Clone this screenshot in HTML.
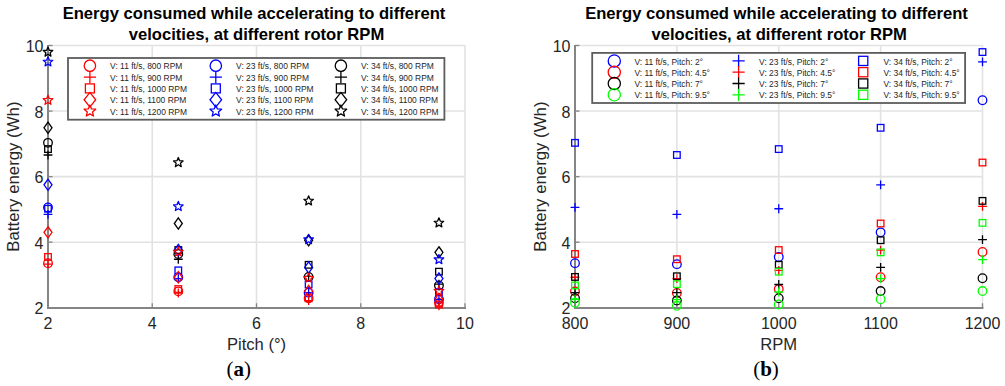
<!DOCTYPE html>
<html><head><meta charset="utf-8"><style>
html,body{margin:0;padding:0;background:#fff;width:1005px;height:386px;overflow:hidden}
svg text{font-family:"Liberation Sans",sans-serif}
</style></head><body>
<svg width="1005" height="386" viewBox="0 0 1005 386" style="position:absolute;left:0;top:0">
<rect width="1005" height="386" fill="#fff"/>
<g font-family="Liberation Sans, sans-serif">
<line x1="152.25" y1="45.5" x2="152.25" y2="307.75" stroke="#e2e2e2" stroke-width="1.6"/>
<line x1="256.50" y1="45.5" x2="256.50" y2="307.75" stroke="#e2e2e2" stroke-width="1.6"/>
<line x1="360.75" y1="45.5" x2="360.75" y2="307.75" stroke="#e2e2e2" stroke-width="1.6"/>
<line x1="465.00" y1="45.5" x2="465.00" y2="307.75" stroke="#e2e2e2" stroke-width="1.6"/>
<line x1="48" y1="242.19" x2="465" y2="242.19" stroke="#e2e2e2" stroke-width="1.6"/>
<line x1="48" y1="176.62" x2="465" y2="176.62" stroke="#e2e2e2" stroke-width="1.6"/>
<line x1="48" y1="111.06" x2="465" y2="111.06" stroke="#e2e2e2" stroke-width="1.6"/>
<line x1="48" y1="45.50" x2="465" y2="45.50" stroke="#e2e2e2" stroke-width="1.6"/>
<line x1="676.88" y1="45.5" x2="676.88" y2="307.75" stroke="#e2e2e2" stroke-width="1.6"/>
<line x1="778.75" y1="45.5" x2="778.75" y2="307.75" stroke="#e2e2e2" stroke-width="1.6"/>
<line x1="880.62" y1="45.5" x2="880.62" y2="307.75" stroke="#e2e2e2" stroke-width="1.6"/>
<line x1="982.50" y1="45.5" x2="982.50" y2="307.75" stroke="#e2e2e2" stroke-width="1.6"/>
<line x1="575" y1="242.19" x2="982.5" y2="242.19" stroke="#e2e2e2" stroke-width="1.6"/>
<line x1="575" y1="176.62" x2="982.5" y2="176.62" stroke="#e2e2e2" stroke-width="1.6"/>
<line x1="575" y1="111.06" x2="982.5" y2="111.06" stroke="#e2e2e2" stroke-width="1.6"/>
<line x1="575" y1="45.50" x2="982.5" y2="45.50" stroke="#e2e2e2" stroke-width="1.6"/>
<line x1="48" y1="45.0" x2="48" y2="309" stroke="#858585" stroke-width="2"/>
<line x1="47" y1="308" x2="466" y2="308" stroke="#858585" stroke-width="2"/>
<line x1="48" y1="307.75" x2="52.5" y2="307.75" stroke="#858585" stroke-width="1.3"/>
<line x1="48" y1="242.19" x2="52.5" y2="242.19" stroke="#858585" stroke-width="1.3"/>
<line x1="48" y1="176.62" x2="52.5" y2="176.62" stroke="#858585" stroke-width="1.3"/>
<line x1="48" y1="111.06" x2="52.5" y2="111.06" stroke="#858585" stroke-width="1.3"/>
<line x1="48" y1="45.50" x2="52.5" y2="45.50" stroke="#858585" stroke-width="1.3"/>
<line x1="48.00" y1="307.75" x2="48.00" y2="303.25" stroke="#858585" stroke-width="1.3"/>
<line x1="152.25" y1="307.75" x2="152.25" y2="303.25" stroke="#858585" stroke-width="1.3"/>
<line x1="256.50" y1="307.75" x2="256.50" y2="303.25" stroke="#858585" stroke-width="1.3"/>
<line x1="360.75" y1="307.75" x2="360.75" y2="303.25" stroke="#858585" stroke-width="1.3"/>
<line x1="465.00" y1="307.75" x2="465.00" y2="303.25" stroke="#858585" stroke-width="1.3"/>
<line x1="575" y1="45.0" x2="575" y2="309" stroke="#858585" stroke-width="2"/>
<line x1="574" y1="308" x2="983.5" y2="308" stroke="#858585" stroke-width="2"/>
<line x1="575" y1="307.75" x2="579.5" y2="307.75" stroke="#858585" stroke-width="1.3"/>
<line x1="575" y1="242.19" x2="579.5" y2="242.19" stroke="#858585" stroke-width="1.3"/>
<line x1="575" y1="176.62" x2="579.5" y2="176.62" stroke="#858585" stroke-width="1.3"/>
<line x1="575" y1="111.06" x2="579.5" y2="111.06" stroke="#858585" stroke-width="1.3"/>
<line x1="575" y1="45.50" x2="579.5" y2="45.50" stroke="#858585" stroke-width="1.3"/>
<line x1="575.00" y1="307.75" x2="575.00" y2="303.25" stroke="#858585" stroke-width="1.3"/>
<line x1="676.88" y1="307.75" x2="676.88" y2="303.25" stroke="#858585" stroke-width="1.3"/>
<line x1="778.75" y1="307.75" x2="778.75" y2="303.25" stroke="#858585" stroke-width="1.3"/>
<line x1="880.62" y1="307.75" x2="880.62" y2="303.25" stroke="#858585" stroke-width="1.3"/>
<line x1="982.50" y1="307.75" x2="982.50" y2="303.25" stroke="#858585" stroke-width="1.3"/>
<circle cx="48.00" cy="263.17" r="4.30" fill="none" stroke="#ff0000" stroke-width="1.3"/>
<circle cx="178.31" cy="291.36" r="4.30" fill="none" stroke="#ff0000" stroke-width="1.3"/>
<circle cx="308.62" cy="298.24" r="4.30" fill="none" stroke="#ff0000" stroke-width="1.3"/>
<circle cx="438.94" cy="302.83" r="4.30" fill="none" stroke="#ff0000" stroke-width="1.3"/>
<circle cx="48.00" cy="207.44" r="4.30" fill="none" stroke="#0000ff" stroke-width="1.3"/>
<circle cx="178.31" cy="277.26" r="4.30" fill="none" stroke="#0000ff" stroke-width="1.3"/>
<circle cx="308.62" cy="292.67" r="4.30" fill="none" stroke="#0000ff" stroke-width="1.3"/>
<circle cx="438.94" cy="299.23" r="4.30" fill="none" stroke="#0000ff" stroke-width="1.3"/>
<circle cx="48.00" cy="142.86" r="4.30" fill="none" stroke="#000000" stroke-width="1.3"/>
<circle cx="178.31" cy="253.99" r="4.30" fill="none" stroke="#000000" stroke-width="1.3"/>
<circle cx="308.62" cy="276.94" r="4.30" fill="none" stroke="#000000" stroke-width="1.3"/>
<circle cx="438.94" cy="285.46" r="4.30" fill="none" stroke="#000000" stroke-width="1.3"/>
<path d="M43.60 264.15H52.40M48.00 259.75V268.55" stroke="#ff0000" stroke-width="1.3" fill="none"/>
<path d="M173.91 293.00H182.71M178.31 288.60V297.40" stroke="#ff0000" stroke-width="1.3" fill="none"/>
<path d="M304.23 300.54H313.02M308.62 296.14V304.94" stroke="#ff0000" stroke-width="1.3" fill="none"/>
<path d="M434.54 305.78H443.34M438.94 301.38V310.18" stroke="#ff0000" stroke-width="1.3" fill="none"/>
<path d="M43.60 214.32H52.40M48.00 209.92V218.72" stroke="#0000ff" stroke-width="1.3" fill="none"/>
<path d="M173.91 278.57H182.71M178.31 274.17V282.97" stroke="#0000ff" stroke-width="1.3" fill="none"/>
<path d="M304.23 292.67H313.02M308.62 288.27V297.07" stroke="#0000ff" stroke-width="1.3" fill="none"/>
<path d="M434.54 299.55H443.34M438.94 295.15V303.95" stroke="#0000ff" stroke-width="1.3" fill="none"/>
<path d="M43.60 154.99H52.40M48.00 150.59V159.39" stroke="#000000" stroke-width="1.3" fill="none"/>
<path d="M173.91 259.23H182.71M178.31 254.83V263.63" stroke="#000000" stroke-width="1.3" fill="none"/>
<path d="M304.23 276.28H313.02M308.62 271.88V280.68" stroke="#000000" stroke-width="1.3" fill="none"/>
<path d="M434.54 284.15H443.34M438.94 279.75V288.55" stroke="#000000" stroke-width="1.3" fill="none"/>
<rect x="44.70" y="253.64" width="6.60" height="6.60" fill="none" stroke="#ff0000" stroke-width="1.3"/>
<rect x="175.01" y="285.76" width="6.60" height="6.60" fill="none" stroke="#ff0000" stroke-width="1.3"/>
<rect x="305.32" y="294.94" width="6.60" height="6.60" fill="none" stroke="#ff0000" stroke-width="1.3"/>
<rect x="435.64" y="301.17" width="6.60" height="6.60" fill="none" stroke="#ff0000" stroke-width="1.3"/>
<rect x="44.70" y="205.45" width="6.60" height="6.60" fill="none" stroke="#0000ff" stroke-width="1.3"/>
<rect x="175.01" y="267.08" width="6.60" height="6.60" fill="none" stroke="#0000ff" stroke-width="1.3"/>
<rect x="305.32" y="281.18" width="6.60" height="6.60" fill="none" stroke="#0000ff" stroke-width="1.3"/>
<rect x="435.64" y="288.71" width="6.60" height="6.60" fill="none" stroke="#0000ff" stroke-width="1.3"/>
<rect x="44.70" y="145.79" width="6.60" height="6.60" fill="none" stroke="#000000" stroke-width="1.3"/>
<rect x="175.01" y="246.75" width="6.60" height="6.60" fill="none" stroke="#000000" stroke-width="1.3"/>
<rect x="305.32" y="261.51" width="6.60" height="6.60" fill="none" stroke="#000000" stroke-width="1.3"/>
<rect x="435.64" y="268.39" width="6.60" height="6.60" fill="none" stroke="#000000" stroke-width="1.3"/>
<path d="M48.00 226.75L52.00 232.35L48.00 237.95L44.00 232.35Z" fill="none" stroke="#ff0000" stroke-width="1.3" stroke-linejoin="miter"/>
<path d="M178.31 271.66L182.31 277.26L178.31 282.86L174.31 277.26Z" fill="none" stroke="#ff0000" stroke-width="1.3" stroke-linejoin="miter"/>
<path d="M308.62 285.43L312.62 291.03L308.62 296.63L304.62 291.03Z" fill="none" stroke="#ff0000" stroke-width="1.3" stroke-linejoin="miter"/>
<path d="M438.94 293.63L442.94 299.23L438.94 304.83L434.94 299.23Z" fill="none" stroke="#ff0000" stroke-width="1.3" stroke-linejoin="miter"/>
<path d="M48.00 179.22L52.00 184.82L48.00 190.42L44.00 184.82Z" fill="none" stroke="#0000ff" stroke-width="1.3" stroke-linejoin="miter"/>
<path d="M178.31 244.46L182.31 250.06L178.31 255.66L174.31 250.06Z" fill="none" stroke="#0000ff" stroke-width="1.3" stroke-linejoin="miter"/>
<path d="M308.62 261.83L312.62 267.43L308.62 273.03L304.62 267.43Z" fill="none" stroke="#0000ff" stroke-width="1.3" stroke-linejoin="miter"/>
<path d="M438.94 272.97L442.94 278.57L438.94 284.17L434.94 278.57Z" fill="none" stroke="#0000ff" stroke-width="1.3" stroke-linejoin="miter"/>
<path d="M48.00 122.18L52.00 127.78L48.00 133.38L44.00 127.78Z" fill="none" stroke="#000000" stroke-width="1.3" stroke-linejoin="miter"/>
<path d="M178.31 217.90L182.31 223.50L178.31 229.10L174.31 223.50Z" fill="none" stroke="#000000" stroke-width="1.3" stroke-linejoin="miter"/>
<path d="M308.62 234.62L312.62 240.22L308.62 245.82L304.62 240.22Z" fill="none" stroke="#000000" stroke-width="1.3" stroke-linejoin="miter"/>
<path d="M438.94 246.75L442.94 252.35L438.94 257.95L434.94 252.35Z" fill="none" stroke="#000000" stroke-width="1.3" stroke-linejoin="miter"/>
<path d="M48.00 95.24L49.32 98.42L52.76 98.70L50.14 100.94L50.94 104.29L48.00 102.49L45.06 104.29L45.86 100.94L43.24 98.70L46.68 98.42Z" fill="none" stroke="#ff0000" stroke-width="1.3" stroke-linejoin="round"/>
<path d="M178.31 247.02L179.64 250.20L183.07 250.48L180.45 252.72L181.25 256.07L178.31 254.27L175.37 256.07L176.17 252.72L173.56 250.48L176.99 250.20Z" fill="none" stroke="#ff0000" stroke-width="1.3" stroke-linejoin="round"/>
<path d="M308.62 273.25L309.95 276.43L313.38 276.70L310.76 278.94L311.56 282.29L308.62 280.50L305.69 282.29L306.49 278.94L303.87 276.70L307.30 276.43Z" fill="none" stroke="#ff0000" stroke-width="1.3" stroke-linejoin="round"/>
<path d="M438.94 286.03L440.26 289.21L443.69 289.49L441.08 291.73L441.88 295.08L438.94 293.28L436.00 295.08L436.80 291.73L434.18 289.49L437.61 289.21Z" fill="none" stroke="#ff0000" stroke-width="1.3" stroke-linejoin="round"/>
<path d="M48.00 56.89L49.32 60.07L52.76 60.35L50.14 62.59L50.94 65.94L48.00 64.14L45.06 65.94L45.86 62.59L43.24 60.35L46.68 60.07Z" fill="none" stroke="#0000ff" stroke-width="1.3" stroke-linejoin="round"/>
<path d="M178.31 201.46L179.64 204.64L183.07 204.91L180.45 207.15L181.25 210.50L178.31 208.71L175.37 210.50L176.17 207.15L173.56 204.91L176.99 204.64Z" fill="none" stroke="#0000ff" stroke-width="1.3" stroke-linejoin="round"/>
<path d="M308.62 234.56L309.95 237.74L313.38 238.02L310.76 240.26L311.56 243.61L308.62 241.81L305.69 243.61L306.49 240.26L303.87 238.02L307.30 237.74Z" fill="none" stroke="#0000ff" stroke-width="1.3" stroke-linejoin="round"/>
<path d="M438.94 254.56L440.26 257.74L443.69 258.02L441.08 260.26L441.88 263.61L438.94 261.81L436.00 263.61L436.80 260.26L434.18 258.02L437.61 257.74Z" fill="none" stroke="#0000ff" stroke-width="1.3" stroke-linejoin="round"/>
<path d="M48.00 47.06L49.32 50.24L52.76 50.51L50.14 52.75L50.94 56.10L48.00 54.31L45.06 56.10L45.86 52.75L43.24 50.51L46.68 50.24Z" fill="none" stroke="#000000" stroke-width="1.3" stroke-linejoin="round"/>
<path d="M178.31 157.53L179.64 160.71L183.07 160.98L180.45 163.22L181.25 166.57L178.31 164.78L175.37 166.57L176.17 163.22L173.56 160.98L176.99 160.71Z" fill="none" stroke="#000000" stroke-width="1.3" stroke-linejoin="round"/>
<path d="M308.62 195.88L309.95 199.06L313.38 199.34L310.76 201.58L311.56 204.93L308.62 203.13L305.69 204.93L306.49 201.58L303.87 199.34L307.30 199.06Z" fill="none" stroke="#000000" stroke-width="1.3" stroke-linejoin="round"/>
<path d="M438.94 217.85L440.26 221.03L443.69 221.30L441.08 223.54L441.88 226.89L438.94 225.10L436.00 226.89L436.80 223.54L434.18 221.30L437.61 221.03Z" fill="none" stroke="#000000" stroke-width="1.3" stroke-linejoin="round"/>
<circle cx="575.00" cy="263.17" r="4.30" fill="none" stroke="#0000ff" stroke-width="1.3"/>
<circle cx="676.88" cy="264.15" r="4.30" fill="none" stroke="#0000ff" stroke-width="1.3"/>
<circle cx="778.75" cy="256.94" r="4.30" fill="none" stroke="#0000ff" stroke-width="1.3"/>
<circle cx="880.62" cy="232.35" r="4.30" fill="none" stroke="#0000ff" stroke-width="1.3"/>
<circle cx="982.50" cy="100.24" r="4.30" fill="none" stroke="#0000ff" stroke-width="1.3"/>
<circle cx="575.00" cy="291.36" r="4.30" fill="none" stroke="#ff0000" stroke-width="1.3"/>
<circle cx="676.88" cy="293.00" r="4.30" fill="none" stroke="#ff0000" stroke-width="1.3"/>
<circle cx="778.75" cy="289.06" r="4.30" fill="none" stroke="#ff0000" stroke-width="1.3"/>
<circle cx="880.62" cy="277.26" r="4.30" fill="none" stroke="#ff0000" stroke-width="1.3"/>
<circle cx="982.50" cy="252.02" r="4.30" fill="none" stroke="#ff0000" stroke-width="1.3"/>
<circle cx="575.00" cy="298.24" r="4.30" fill="none" stroke="#000000" stroke-width="1.3"/>
<circle cx="676.88" cy="300.54" r="4.30" fill="none" stroke="#000000" stroke-width="1.3"/>
<circle cx="778.75" cy="298.24" r="4.30" fill="none" stroke="#000000" stroke-width="1.3"/>
<circle cx="880.62" cy="291.03" r="4.30" fill="none" stroke="#000000" stroke-width="1.3"/>
<circle cx="982.50" cy="278.25" r="4.30" fill="none" stroke="#000000" stroke-width="1.3"/>
<circle cx="575.00" cy="302.83" r="4.30" fill="none" stroke="#00ff00" stroke-width="1.3"/>
<circle cx="676.88" cy="305.78" r="4.30" fill="none" stroke="#00ff00" stroke-width="1.3"/>
<circle cx="778.75" cy="304.47" r="4.30" fill="none" stroke="#00ff00" stroke-width="1.3"/>
<circle cx="880.62" cy="299.23" r="4.30" fill="none" stroke="#00ff00" stroke-width="1.3"/>
<circle cx="982.50" cy="291.03" r="4.30" fill="none" stroke="#00ff00" stroke-width="1.3"/>
<path d="M570.60 207.44H579.40M575.00 203.04V211.84" stroke="#0000ff" stroke-width="1.3" fill="none"/>
<path d="M672.48 214.32H681.27M676.88 209.92V218.72" stroke="#0000ff" stroke-width="1.3" fill="none"/>
<path d="M774.35 208.75H783.15M778.75 204.35V213.15" stroke="#0000ff" stroke-width="1.3" fill="none"/>
<path d="M876.23 184.82H885.02M880.62 180.42V189.22" stroke="#0000ff" stroke-width="1.3" fill="none"/>
<path d="M978.10 61.89H986.90M982.50 57.49V66.29" stroke="#0000ff" stroke-width="1.3" fill="none"/>
<path d="M570.60 277.26H579.40M575.00 272.86V281.66" stroke="#ff0000" stroke-width="1.3" fill="none"/>
<path d="M672.48 278.57H681.27M676.88 274.17V282.97" stroke="#ff0000" stroke-width="1.3" fill="none"/>
<path d="M774.35 270.38H783.15M778.75 265.98V274.78" stroke="#ff0000" stroke-width="1.3" fill="none"/>
<path d="M876.23 250.06H885.02M880.62 245.66V254.46" stroke="#ff0000" stroke-width="1.3" fill="none"/>
<path d="M978.10 206.46H986.90M982.50 202.06V210.86" stroke="#ff0000" stroke-width="1.3" fill="none"/>
<path d="M570.60 292.67H579.40M575.00 288.27V297.07" stroke="#000000" stroke-width="1.3" fill="none"/>
<path d="M672.48 292.67H681.27M676.88 288.27V297.07" stroke="#000000" stroke-width="1.3" fill="none"/>
<path d="M774.35 284.48H783.15M778.75 280.08V288.88" stroke="#000000" stroke-width="1.3" fill="none"/>
<path d="M876.23 267.43H885.02M880.62 263.03V271.83" stroke="#000000" stroke-width="1.3" fill="none"/>
<path d="M978.10 239.56H986.90M982.50 235.16V243.97" stroke="#000000" stroke-width="1.3" fill="none"/>
<path d="M570.60 299.23H579.40M575.00 294.83V303.63" stroke="#00ff00" stroke-width="1.3" fill="none"/>
<path d="M672.48 299.55H681.27M676.88 295.15V303.95" stroke="#00ff00" stroke-width="1.3" fill="none"/>
<path d="M774.35 292.01H783.15M778.75 287.62V296.41" stroke="#00ff00" stroke-width="1.3" fill="none"/>
<path d="M876.23 278.57H885.02M880.62 274.17V282.97" stroke="#00ff00" stroke-width="1.3" fill="none"/>
<path d="M978.10 259.56H986.90M982.50 255.16V263.96" stroke="#00ff00" stroke-width="1.3" fill="none"/>
<rect x="571.70" y="139.56" width="6.60" height="6.60" fill="none" stroke="#0000ff" stroke-width="1.3"/>
<rect x="673.58" y="151.69" width="6.60" height="6.60" fill="none" stroke="#0000ff" stroke-width="1.3"/>
<rect x="775.45" y="145.79" width="6.60" height="6.60" fill="none" stroke="#0000ff" stroke-width="1.3"/>
<rect x="877.33" y="124.48" width="6.60" height="6.60" fill="none" stroke="#0000ff" stroke-width="1.3"/>
<rect x="979.20" y="48.76" width="6.60" height="6.60" fill="none" stroke="#0000ff" stroke-width="1.3"/>
<rect x="571.70" y="250.69" width="6.60" height="6.60" fill="none" stroke="#ff0000" stroke-width="1.3"/>
<rect x="673.58" y="255.93" width="6.60" height="6.60" fill="none" stroke="#ff0000" stroke-width="1.3"/>
<rect x="775.45" y="246.75" width="6.60" height="6.60" fill="none" stroke="#ff0000" stroke-width="1.3"/>
<rect x="877.33" y="220.20" width="6.60" height="6.60" fill="none" stroke="#ff0000" stroke-width="1.3"/>
<rect x="979.20" y="159.23" width="6.60" height="6.60" fill="none" stroke="#ff0000" stroke-width="1.3"/>
<rect x="571.70" y="273.64" width="6.60" height="6.60" fill="none" stroke="#000000" stroke-width="1.3"/>
<rect x="673.58" y="272.98" width="6.60" height="6.60" fill="none" stroke="#000000" stroke-width="1.3"/>
<rect x="775.45" y="261.51" width="6.60" height="6.60" fill="none" stroke="#000000" stroke-width="1.3"/>
<rect x="877.33" y="236.92" width="6.60" height="6.60" fill="none" stroke="#000000" stroke-width="1.3"/>
<rect x="979.20" y="197.58" width="6.60" height="6.60" fill="none" stroke="#000000" stroke-width="1.3"/>
<rect x="571.70" y="282.16" width="6.60" height="6.60" fill="none" stroke="#00ff00" stroke-width="1.3"/>
<rect x="673.58" y="280.85" width="6.60" height="6.60" fill="none" stroke="#00ff00" stroke-width="1.3"/>
<rect x="775.45" y="268.39" width="6.60" height="6.60" fill="none" stroke="#00ff00" stroke-width="1.3"/>
<rect x="877.33" y="249.05" width="6.60" height="6.60" fill="none" stroke="#00ff00" stroke-width="1.3"/>
<rect x="979.20" y="219.55" width="6.60" height="6.60" fill="none" stroke="#00ff00" stroke-width="1.3"/>
<text x="43.5" y="314.25" text-anchor="end" font-size="16" fill="#262626">2</text>
<text x="43.5" y="248.69" text-anchor="end" font-size="16" fill="#262626">4</text>
<text x="43.5" y="183.12" text-anchor="end" font-size="16" fill="#262626">6</text>
<text x="43.5" y="117.56" text-anchor="end" font-size="16" fill="#262626">8</text>
<text x="43.5" y="52.00" text-anchor="end" font-size="16" fill="#262626">10</text>
<text x="48.00" y="328.6" text-anchor="middle" font-size="16" fill="#262626">2</text>
<text x="152.25" y="328.6" text-anchor="middle" font-size="16" fill="#262626">4</text>
<text x="256.50" y="328.6" text-anchor="middle" font-size="16" fill="#262626">6</text>
<text x="360.75" y="328.6" text-anchor="middle" font-size="16" fill="#262626">8</text>
<text x="465.00" y="328.6" text-anchor="middle" font-size="16" fill="#262626">10</text>
<text x="570.5" y="314.25" text-anchor="end" font-size="16" fill="#262626">2</text>
<text x="570.5" y="248.69" text-anchor="end" font-size="16" fill="#262626">4</text>
<text x="570.5" y="183.12" text-anchor="end" font-size="16" fill="#262626">6</text>
<text x="570.5" y="117.56" text-anchor="end" font-size="16" fill="#262626">8</text>
<text x="570.5" y="52.00" text-anchor="end" font-size="16" fill="#262626">10</text>
<text x="575.00" y="328.6" text-anchor="middle" font-size="16" fill="#262626">800</text>
<text x="676.88" y="328.6" text-anchor="middle" font-size="16" fill="#262626">900</text>
<text x="778.75" y="328.6" text-anchor="middle" font-size="16" fill="#262626">1000</text>
<text x="880.62" y="328.6" text-anchor="middle" font-size="16" fill="#262626">1100</text>
<text x="982.50" y="328.6" text-anchor="middle" font-size="16" fill="#262626">1200</text>
<rect x="68" y="58" width="376.4" height="61.7" fill="#fff" stroke="#5c5c5c" stroke-width="1.8"/>
<circle cx="89.90" cy="65.70" r="5.70" fill="none" stroke="#ff0000" stroke-width="1.3"/>
<text x="110.1" y="69.30" font-size="8.45" fill="#262626">V: 11 ft/s, 800 RPM</text>
<path d="M83.80 77.05H96.00M89.90 70.95V83.15" stroke="#ff0000" stroke-width="1.3" fill="none"/>
<text x="110.1" y="80.65" font-size="8.45" fill="#262626">V: 11 ft/s, 900 RPM</text>
<rect x="85.40" y="83.90" width="9.00" height="9.00" fill="none" stroke="#ff0000" stroke-width="1.3"/>
<text x="110.1" y="92.00" font-size="8.45" fill="#262626">V: 11 ft/s, 1000 RPM</text>
<path d="M89.90 92.45L95.70 99.75L89.90 107.05L84.10 99.75Z" fill="none" stroke="#ff0000" stroke-width="1.3" stroke-linejoin="miter"/>
<text x="110.1" y="103.35" font-size="8.45" fill="#262626">V: 11 ft/s, 1100 RPM</text>
<path d="M89.90 105.00L91.51 108.88L95.70 109.21L92.51 111.95L93.49 116.04L89.90 113.84L86.31 116.04L87.29 111.95L84.10 109.21L88.29 108.88Z" fill="none" stroke="#ff0000" stroke-width="1.3" stroke-linejoin="round"/>
<text x="110.1" y="114.70" font-size="8.45" fill="#262626">V: 11 ft/s, 1200 RPM</text>
<circle cx="215.80" cy="65.70" r="5.70" fill="none" stroke="#0000ff" stroke-width="1.3"/>
<text x="236.1" y="69.30" font-size="8.45" fill="#262626">V: 23 ft/s, 800 RPM</text>
<path d="M209.70 77.05H221.90M215.80 70.95V83.15" stroke="#0000ff" stroke-width="1.3" fill="none"/>
<text x="236.1" y="80.65" font-size="8.45" fill="#262626">V: 23 ft/s, 900 RPM</text>
<rect x="211.30" y="83.90" width="9.00" height="9.00" fill="none" stroke="#0000ff" stroke-width="1.3"/>
<text x="236.1" y="92.00" font-size="8.45" fill="#262626">V: 23 ft/s, 1000 RPM</text>
<path d="M215.80 92.45L221.60 99.75L215.80 107.05L210.00 99.75Z" fill="none" stroke="#0000ff" stroke-width="1.3" stroke-linejoin="miter"/>
<text x="236.1" y="103.35" font-size="8.45" fill="#262626">V: 23 ft/s, 1100 RPM</text>
<path d="M215.80 105.00L217.41 108.88L221.60 109.21L218.41 111.95L219.39 116.04L215.80 113.84L212.21 116.04L213.19 111.95L210.00 109.21L214.19 108.88Z" fill="none" stroke="#0000ff" stroke-width="1.3" stroke-linejoin="round"/>
<text x="236.1" y="114.70" font-size="8.45" fill="#262626">V: 23 ft/s, 1200 RPM</text>
<circle cx="340.90" cy="65.70" r="5.70" fill="none" stroke="#000000" stroke-width="1.3"/>
<text x="361.0" y="69.30" font-size="8.45" fill="#262626">V: 34 ft/s, 800 RPM</text>
<path d="M334.80 77.05H347.00M340.90 70.95V83.15" stroke="#000000" stroke-width="1.3" fill="none"/>
<text x="361.0" y="80.65" font-size="8.45" fill="#262626">V: 34 ft/s, 900 RPM</text>
<rect x="336.40" y="83.90" width="9.00" height="9.00" fill="none" stroke="#000000" stroke-width="1.3"/>
<text x="361.0" y="92.00" font-size="8.45" fill="#262626">V: 34 ft/s, 1000 RPM</text>
<path d="M340.90 92.45L346.70 99.75L340.90 107.05L335.10 99.75Z" fill="none" stroke="#000000" stroke-width="1.3" stroke-linejoin="miter"/>
<text x="361.0" y="103.35" font-size="8.45" fill="#262626">V: 34 ft/s, 1100 RPM</text>
<path d="M340.90 105.00L342.51 108.88L346.70 109.21L343.51 111.95L344.49 116.04L340.90 113.84L337.31 116.04L338.29 111.95L335.10 109.21L339.29 108.88Z" fill="none" stroke="#000000" stroke-width="1.3" stroke-linejoin="round"/>
<text x="361.0" y="114.70" font-size="8.45" fill="#262626">V: 34 ft/s, 1200 RPM</text>
<rect x="592.2" y="52.9" width="372.9" height="50.1" fill="#fff" stroke="#5c5c5c" stroke-width="1.8"/>
<circle cx="614.30" cy="60.90" r="6.10" fill="none" stroke="#0000ff" stroke-width="1.3"/>
<text x="634.4" y="64.50" font-size="8.45" fill="#262626">V: 11 ft/s, Pitch: 2°</text>
<circle cx="614.30" cy="72.20" r="6.10" fill="none" stroke="#ff0000" stroke-width="1.3"/>
<text x="634.4" y="75.80" font-size="8.45" fill="#262626">V: 11 ft/s, Pitch: 4.5°</text>
<circle cx="614.30" cy="83.50" r="6.10" fill="none" stroke="#000000" stroke-width="1.3"/>
<text x="634.4" y="87.10" font-size="8.45" fill="#262626">V: 11 ft/s, Pitch: 7°</text>
<circle cx="614.30" cy="94.80" r="6.10" fill="none" stroke="#00ff00" stroke-width="1.3"/>
<text x="634.4" y="98.40" font-size="8.45" fill="#262626">V: 11 ft/s, Pitch: 9.5°</text>
<path d="M732.50 60.90H744.70M738.60 54.80V67.00" stroke="#0000ff" stroke-width="1.3" fill="none"/>
<text x="759.1" y="64.50" font-size="8.45" fill="#262626">V: 23 ft/s, Pitch: 2°</text>
<path d="M732.50 72.20H744.70M738.60 66.10V78.30" stroke="#ff0000" stroke-width="1.3" fill="none"/>
<text x="759.1" y="75.80" font-size="8.45" fill="#262626">V: 23 ft/s, Pitch: 4.5°</text>
<path d="M732.50 83.50H744.70M738.60 77.40V89.60" stroke="#000000" stroke-width="1.3" fill="none"/>
<text x="759.1" y="87.10" font-size="8.45" fill="#262626">V: 23 ft/s, Pitch: 7°</text>
<path d="M732.50 94.80H744.70M738.60 88.70V100.90" stroke="#00ff00" stroke-width="1.3" fill="none"/>
<text x="759.1" y="98.40" font-size="8.45" fill="#262626">V: 23 ft/s, Pitch: 9.5°</text>
<rect x="858.60" y="56.30" width="9.20" height="9.20" fill="none" stroke="#0000ff" stroke-width="1.3"/>
<text x="883.5" y="64.50" font-size="8.45" fill="#262626">V: 34 ft/s, Pitch: 2°</text>
<rect x="858.60" y="67.60" width="9.20" height="9.20" fill="none" stroke="#ff0000" stroke-width="1.3"/>
<text x="883.5" y="75.80" font-size="8.45" fill="#262626">V: 34 ft/s, Pitch: 4.5°</text>
<rect x="858.60" y="78.90" width="9.20" height="9.20" fill="none" stroke="#000000" stroke-width="1.3"/>
<text x="883.5" y="87.10" font-size="8.45" fill="#262626">V: 34 ft/s, Pitch: 7°</text>
<rect x="858.60" y="90.20" width="9.20" height="9.20" fill="none" stroke="#00ff00" stroke-width="1.3"/>
<text x="883.5" y="98.40" font-size="8.45" fill="#262626">V: 34 ft/s, Pitch: 9.5°</text>
<text x="254.0" y="19.2" text-anchor="middle" font-size="16.6" font-weight="bold" fill="#000">Energy consumed while accelerating to different</text>
<text x="256.5" y="39.8" text-anchor="middle" font-size="16.6" font-weight="bold" fill="#000">velocities, at different rotor RPM</text>
<text x="776.5" y="19.2" text-anchor="middle" font-size="16.6" font-weight="bold" fill="#000">Energy consumed while accelerating to different</text>
<text x="779.2" y="39.8" text-anchor="middle" font-size="16.6" font-weight="bold" fill="#000">velocities, at different rotor RPM</text>
<text transform="translate(19.0,176.6) rotate(-90)" text-anchor="middle" font-size="16.8" fill="#262626">Battery energy (Wh)</text>
<text transform="translate(546.4,176.6) rotate(-90)" text-anchor="middle" font-size="16.8" fill="#262626">Battery energy (Wh)</text>
<text x="256.5" y="349.6" text-anchor="middle" font-size="16.6" fill="#262626">Pitch (°)</text>
<text x="778.75" y="349.6" text-anchor="middle" font-size="16.6" fill="#262626">RPM</text>
</g>
<g font-family="Liberation Serif, serif" fill="#000">
<text x="238.8" y="375.8" text-anchor="middle" font-size="21" style="font-family:'Liberation Serif',serif">(<tspan font-weight="bold">a</tspan>)</text>
<text x="766.0" y="375.8" text-anchor="middle" font-size="21" style="font-family:'Liberation Serif',serif">(<tspan font-weight="bold">b</tspan>)</text>
</g>
</svg>
</body></html>
